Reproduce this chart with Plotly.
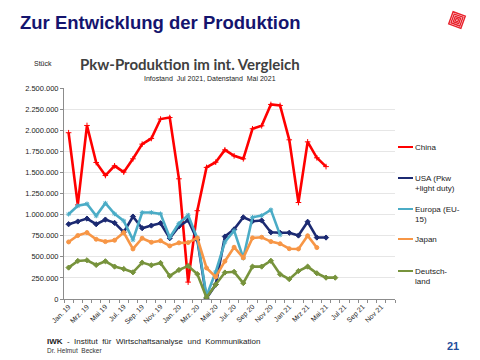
import math
import plotly.graph_objects as go

# ---------------- data ----------------
months = ["Jan. 19", "Feb. 19", "Mrz. 19", "Apr. 19", "Mai 19", "Jun. 19", "Jul. 19", "Aug. 19",
          "Sep. 19", "Okt. 19", "Nov. 19", "Dez. 19", "Jan. 20", "Feb. 20", "Mrz. 20", "Apr. 20",
          "Mai 20", "Jun. 20", "Jul. 20", "Aug 20", "Sep 20", "Okt 20", "Nov 20", "Dez 20",
          "Jan 21", "Feb 21", "Mrz 21", "Apr 21", "Mai 21", "Jun 21", "Jul 21", "Aug 21",
          "Sep 21", "Okt 21", "Nov 21", "Dez 21"]
tick_labels = ["Jan. 19", "", "Mrz. 19", "", "Mai 19", "", "Jul. 19", "", "Sep. 19", "", "Nov. 19", "",
               "Jan. 20", "", "Mrz. 20", "", "Mai 20", "", "Jul. 20", "", "Sep 20", "", "Nov 20", "",
               "Jan 21", "", "Mrz 21", "", "Mai 21", "", "Jul 21", "", "Sep 21", "", "Nov 21", ""]

china = [1970000, 1115000, 2056000, 1617000, 1463000, 1578000, 1503000, 1661000, 1835000, 1902000,
         2132000, 2150000, 1424000, 200000, 1046000, 1559000, 1621000, 1767000, 1696000, 1661000,
         2017000, 2052000, 2305000, 2293000, 1886000, 1143000, 1862000, 1673000, 1569000]
usa = [886000, 918000, 953000, 886000, 941000, 902000, 791000, 977000, 839000, 870000, 898000, 720000,
       860000, 935000, 700000, 10000, 170000, 740000, 825000, 968000, 922000, 930000, 790000, 785000,
       785000, 752000, 915000, 728000, 728000]
europa = [1005000, 1104000, 1127000, 985000, 1135000, 1009000, 926000, 700000, 1025000, 1025000,
          1009000, 728000, 895000, 993000, 720000, 35000, 320000, 675000, 810000, 485000, 968000,
          988000, 1056000, 760000]
japan = [676000, 752000, 787000, 708000, 680000, 696000, 787000, 593000, 720000, 672000, 690000, 629000,
         665000, 668000, 724000, 368000, 262000, 448000, 613000, 488000, 724000, 732000, 680000, 655000,
         596000, 593000, 749000, 609000]
deutschland = [372000, 451000, 459000, 403000, 447000, 384000, 356000, 316000, 431000, 400000, 427000,
               273000, 344000, 392000, 295000, 18000, 172000, 314000, 322000, 188000, 384000, 384000,
               453000, 293000, 235000, 332000, 384000, 305000, 253000, 253000]

series = [
    ("China", china, "#ff0000", "cross-thin-open"),
    ("USA (Pkw<br>+light duty)", usa, "#1c2a72", "diamond"),
    ("Europa (EU-<br>15)", europa, "#4bacc6", "asterisk-open"),
    ("Japan", japan, "#f79646", "circle"),
    ("Deutsch-<br>land", deutschland, "#77933c", "diamond"),
]

# ---------------- geometry (target pixel positions in the screenshot) ----------------
W, H = 480, 360
OFF = 8  # page body margin shifts the figure by 8px right/down
L, R, T, B = 64, 395, 88, 299


def px(x):
    return (x - L) / (R - L)


def py(y):
    return (B - y) / (B - T)


fig = go.Figure()
for name, vals, col, sym in series:
    fig.add_trace(go.Scatter(
        x=months[:len(vals)], y=vals, mode="lines+markers", name=name.replace("<br>", " "),
        line=dict(color=col, width=2.6),
        marker=dict(symbol=sym, size=4, color=col, line=dict(color=col, width=1)),
        showlegend=False,
    ))

# custom legend
leg_y = [147, 178, 209, 239, 271]
shapes = []
annotations = []
for (name, vals, col, sym), yy in zip(series, leg_y):
    shapes.append(dict(type="line", xref="paper", yref="paper", x0=px(398), x1=px(413),
                       y0=py(yy), y1=py(yy), line=dict(color=col, width=2)))
    annotations.append(dict(xref="paper", yref="paper", x=px(413), y=py(yy - 6), xanchor="left",
                            yanchor="top", align="left", showarrow=False, text=name,
                            font=dict(family="Liberation Sans", size=8, color="#222222")))

# logo (decorative)
cx, cy = 457, 20
for r in [9, 6.5, 4, 1.8]:
    pts = []
    for k in range(4):
        a = math.radians(20 + 90 * k + 45)
        pts.append((cx + r * 1.41 * math.cos(a) * 0.72, cy + r * 1.41 * math.sin(a) * 0.72))
    path = "M " + " L ".join(f"{px(a):.4f},{py(b):.4f}" for a, b in pts) + " Z"
    shapes.append(dict(type="path", xref="paper", yref="paper", path=path,
                       line=dict(color="#e8202a", width=1.4)))

annotations += [
    dict(xref="paper", yref="paper", x=px(18), y=py(22), xanchor="left", yanchor="middle",
         showarrow=False, text="<b>Zur Entwicklung der Produktion</b>",
         font=dict(family="Liberation Sans", size=18.5, color="#14146e")),
    dict(xref="paper", yref="paper", x=px(190), y=py(64), xanchor="center", yanchor="middle",
         showarrow=False, text="<b>Pkw-Produktion im int. Vergleich</b>",
         font=dict(family="Lato", size=15, color="#404040")),
    dict(xref="paper", yref="paper", x=px(210), y=py(79), xanchor="center", yanchor="middle",
         showarrow=False, text="Infostand  Jul 2021, Datenstand  Mai 2021",
         font=dict(family="Liberation Sans", size=7, color="#222222")),
    dict(xref="paper", yref="paper", x=px(43), y=py(64), xanchor="center", yanchor="middle",
         showarrow=False, text="Stück",
         font=dict(family="Liberation Sans", size=7, color="#222222")),
    dict(xref="paper", yref="paper", x=px(45), y=py(341), xanchor="left", yanchor="middle",
         showarrow=False, text="<b>IWK</b>  -  Institut  für  Wirtschaftsanalyse  und  Kommunikation",
         font=dict(family="Liberation Sans", size=8, color="#222222")),
    dict(xref="paper", yref="paper", x=px(45), y=py(350), xanchor="left", yanchor="middle",
         showarrow=False, text="Dr. Helmut  Becker",
         font=dict(family="Liberation Sans", size=6.5, color="#333333")),
    dict(xref="paper", yref="paper", x=px(461), y=py(346), xanchor="right", yanchor="middle",
         showarrow=False, text="<b>21</b>",
         font=dict(family="Liberation Sans", size=11, color="#1f4e9c")),
]

fig.update_layout(
    width=W, height=H,
    margin=dict(l=L - OFF, r=W - (R - OFF), t=T - OFF, b=H - (B - OFF), pad=0, autoexpand=False),
    paper_bgcolor="white", plot_bgcolor="white",
    separators=",.",
    shapes=shapes, annotations=annotations,
    showlegend=False,
    font=dict(family="Liberation Sans", color="#222222"),
)
fig.update_xaxes(
    type="category", categoryorder="array", categoryarray=months, automargin=False,
    range=[-0.5, 35.5], tickvals=months, ticktext=tick_labels, tickangle=-45,
    tickfont=dict(size=7, color="#222222"), showgrid=False,
    showline=True, linecolor="#8c8c8c", linewidth=1,
    ticks="outside", ticklen=3, tickcolor="#8c8c8c", tickson="boundaries",
)
fig.update_yaxes(
    range=[0, 2500000], dtick=250000, tickformat=",d", automargin=False,
    tickfont=dict(size=7.5, color="#222222"),
    showgrid=True, gridcolor="#e6e6e6", gridwidth=1,
    showline=True, linecolor="#8c8c8c", linewidth=1,
    ticks="outside", ticklen=3, tickcolor="#8c8c8c", zeroline=False,
)

fig.write_html("out.html")
